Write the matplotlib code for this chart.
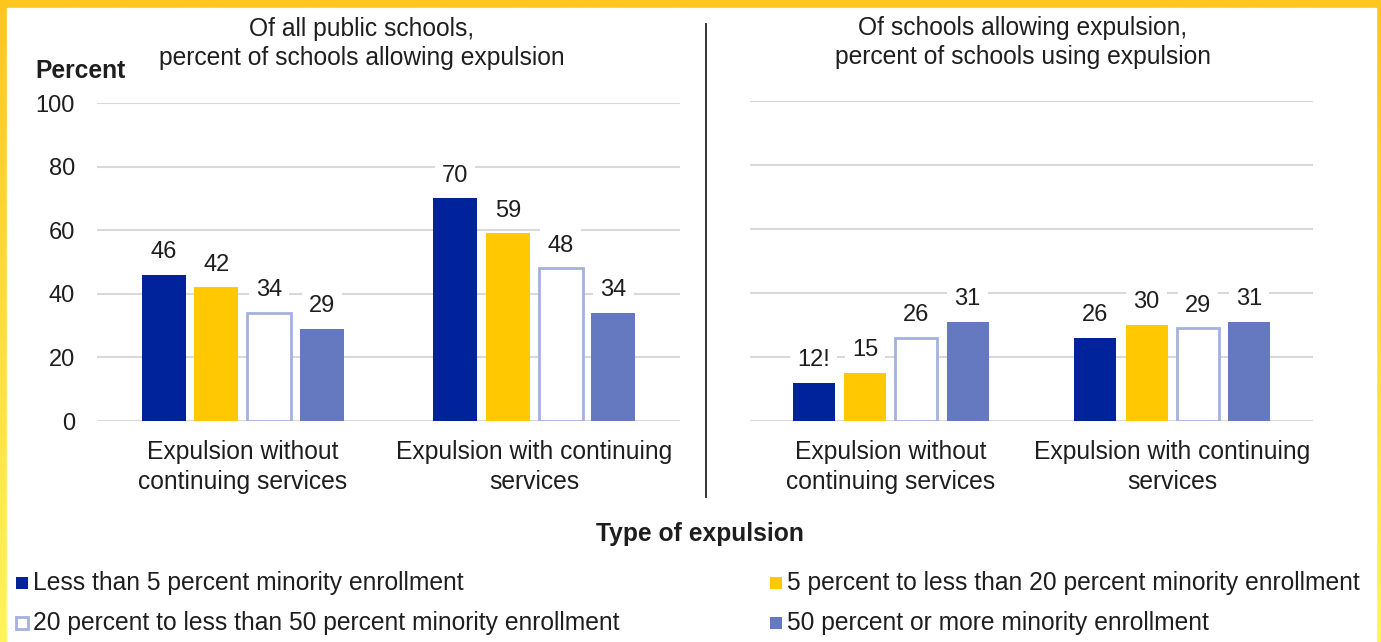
import numpy as np
import matplotlib
matplotlib.use("Agg")
import matplotlib.pyplot as plt
from matplotlib.patches import Rectangle

plt.rcParams['font.family'] = ['Liberation Sans', 'DejaVu Sans']

categories = ["Expulsion without\ncontinuing services", "Expulsion with continuing\nservices"]
series_names = ["Less than 5 percent minority enrollment",
                "5 percent to less than 20 percent minority enrollment",
                "20 percent to less than 50 percent minority enrollment",
                "50 percent or more minority enrollment"]
# Left panel: of all public schools, percent allowing expulsion
left_values = [[46, 70], [42, 59], [34, 48], [29, 34]]
left_labels = [["46", "70"], ["42", "59"], ["34", "48"], ["29", "34"]]
# Right panel: of schools allowing expulsion, percent using expulsion
right_values = [[12, 26], [15, 30], [26, 29], [31, 31]]
right_labels = [["12!", "26"], ["15", "30"], ["26", "29"], ["31", "31"]]
yticks = [0, 20, 40, 60, 80, 100]

face_colors = ["#00229A", "#FFC800", "#FFFFFF", "#6479BF"]
edge_colors = ["#00229A", "#FFC800", "#A3B1E0", "#6479BF"]

W, H = 1381, 642
fig = plt.figure(figsize=(W / 100, H / 100), dpi=100)
fig.patch.set_facecolor("white")

# gradient border
bg = fig.add_axes([0, 0, 1, 1], zorder=-10)
grad = np.linspace(0, 1, 256).reshape(-1, 1)
top_c = np.array([255, 198, 30]) / 255
bot_c = np.array([255, 245, 86]) / 255
img = top_c[None, None, :] * (1 - grad[:, :, None]) + bot_c[None, None, :] * grad[:, :, None]
bg.imshow(img, aspect="auto", extent=[0, 1, 0, 1], origin="upper")
bg.add_patch(Rectangle((7 / W, 0), (1376 - 7) / W, (H - 8) / H, color="white", transform=bg.transAxes))
bg.set_xlim(0, 1); bg.set_ylim(0, 1)
bg.axis("off")

FS = 17
FT = 17.7
TXT = "#1E1E1E"


def draw_panel(ax, values, labels, width, step, show_ticks):
    x = np.arange(len(categories))
    for i in range(4):
        off = (i - 1.5) * step
        lw = 2.0 if i == 2 else 0
        ax.bar(x + off, values[i], width, color=face_colors[i], edgecolor=edge_colors[i],
               linewidth=lw, zorder=3)
        for j in range(len(categories)):
            ax.annotate(labels[i][j], (x[j] + off, values[i][j]), xytext=(0, 12),
                        textcoords="offset points", ha="center", va="baseline",
                        fontsize=FS, color=TXT, zorder=4,
                        bbox=dict(boxstyle="square,pad=0.3", fc="white", ec="none"))
    ax.set_xlim(-0.5, 1.5)
    ax.set_ylim(0, 100)
    ax.set_yticks(yticks)
    ax.yaxis.grid(True, color="#D9D9D9", linewidth=1.5, zorder=0)
    ax.set_axisbelow(True)
    for s in ax.spines.values():
        s.set_visible(False)
    ax.set_xticks(x)
    ax.set_xticklabels(categories, fontsize=FT, color=TXT, linespacing=1.3)
    ax.tick_params(axis="x", length=0, pad=14)
    if show_ticks:
        ax.tick_params(axis="y", length=0, pad=16, labelsize=FS, labelcolor=TXT)
    else:
        ax.tick_params(axis="y", length=0, labelleft=False)


ax1 = fig.add_axes([97 / W, (H - 421) / H, (680 - 97) / W, 318 / H])
draw_panel(ax1, left_values, left_labels, 0.151, 0.181, True)
ax2 = fig.add_axes([750 / W, (H - 421) / H, (1313 - 750) / W, 320 / H])
draw_panel(ax2, right_values, right_labels, 0.149, 0.182, False)

# titles
fig.text(362 / W, 1 - 36 / H, "Of all public schools,", ha="center", va="baseline", fontsize=FT, color=TXT)
fig.text(362 / W, 1 - 65 / H, "percent of schools allowing expulsion", ha="center", va="baseline", fontsize=FT, color=TXT)
fig.text(1023 / W, 1 - 35 / H, "Of schools allowing expulsion,", ha="center", va="baseline", fontsize=FT, color=TXT)
fig.text(1023 / W, 1 - 64 / H, "percent of schools using expulsion", ha="center", va="baseline", fontsize=FT, color=TXT)
fig.text(35 / W, 1 - 71 / H, "Percent", ha="left", va="center", fontsize=FT, fontweight="bold", color=TXT)
fig.text(700 / W, 1 - 534 / H, "Type of expulsion", ha="center", va="center", fontsize=FT, fontweight="bold", color=TXT)

# divider
fig.add_artist(plt.Line2D([706 / W, 706 / W], [1 - 497 / H, 1 - 24 / H], color="#222222", linewidth=1.3))

# legend
leg_pos = [(15, 583), (769, 583), (15, 623), (769, 623)]
for i, (px, py) in enumerate(leg_pos):
    sz = 14
    lw = 2.0 if i == 2 else 0
    fig.add_artist(Rectangle(((px + 1) / W, 1 - (py + sz / 2 - 1) / H), (sz - 2) / W, (sz - 2) / H,
                             facecolor=face_colors[i], edgecolor=edge_colors[i], linewidth=lw,
                             transform=fig.transFigure))
    fig.text((px + 18) / W, 1 - py / H, series_names[i], ha="left", va="center", fontsize=FT, color=TXT)

fig.savefig("out.png", dpi=100)
